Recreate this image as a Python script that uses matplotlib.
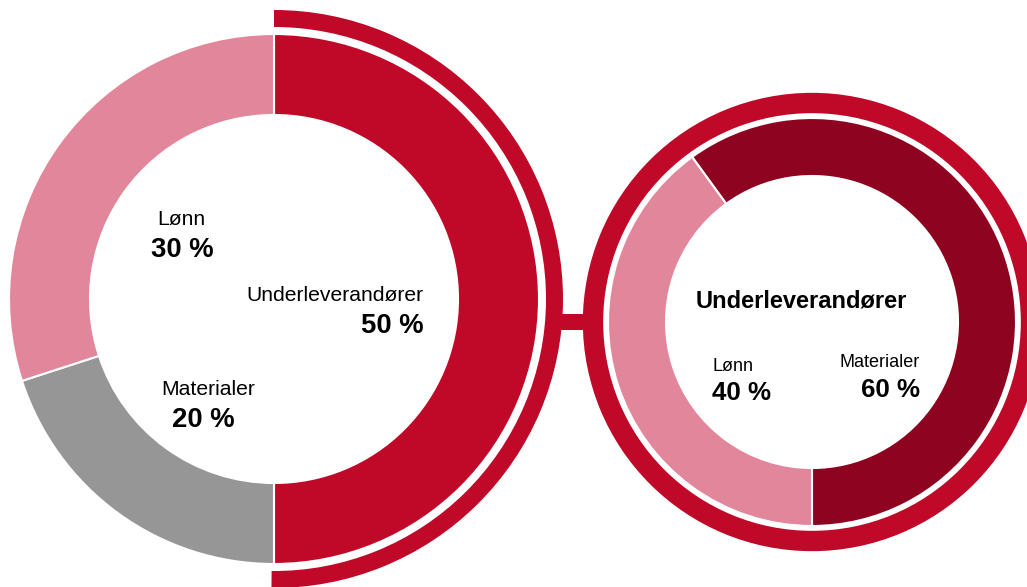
import matplotlib.pyplot as plt
from matplotlib.patches import Wedge, Rectangle

plt.rcParams["font.family"] = ["Liberation Sans", "DejaVu Sans"]

# Kostnadsfordeling totalt
total_labels = ["Underleverandører", "Materialer", "Lønn"]
total_values = [50, 20, 30]

# Fordeling innen underleverandører
under_labels = ["Materialer", "Lønn"]
under_values = [60, 40]

RED = "#C00828"
PINK = "#E2879B"
GREY = "#969696"
DARK = "#8D0320"

W, H = 1027, 587
fig = plt.figure(figsize=(W / 100, H / 100), dpi=100)
ax = fig.add_axes([0, 0, 1, 1])

# venstre smultring
c1 = (274, H - 299)
ax.pie(total_values, colors=[RED, GREY, PINK], startangle=90, counterclock=False,
       radius=265, center=c1,
       wedgeprops=dict(width=81, edgecolor="white", linewidth=1.5))
# bue rundt underleverandør-delen
ax.add_patch(Wedge(c1, 289, -90.5, 90, width=17, facecolor=RED, edgecolor="none"))

# høyre smultring
c2 = (812, H - 322)
ax.pie(under_values, colors=[DARK, PINK], startangle=-90, counterclock=True,
       radius=204, center=c2,
       wedgeprops=dict(width=58, edgecolor="white", linewidth=1.5))
# ring rundt høyre smultring
ax.add_patch(Wedge(c2, 230, -92, 268, width=22, facecolor=RED,
                   edgecolor="white", linewidth=1.2))

# kobling mellom buene
ax.add_patch(Rectangle((561, H - 330), 23, 16, facecolor=RED, edgecolor="none"))

ax.set_xlim(0, W)
ax.set_ylim(0, H)
ax.set_aspect("equal")
ax.axis("off")

reg = dict(fontsize=15.2, color="black", va="baseline")
bold = dict(fontsize=19.8, fontweight="bold", color="black", va="baseline")

ax.text(157, H - 225, total_labels[2], ha="left", **reg)
ax.text(151, H - 257, f"{total_values[2]} %", ha="left", **bold)
ax.text(424, H - 301, total_labels[0], ha="right", **reg)
ax.text(424, H - 333, f"{total_values[0]} %", ha="right", **bold)
ax.text(161, H - 395, total_labels[1], ha="left", **reg)
ax.text(172, H - 427, f"{total_values[1]} %", ha="left", **bold)

ax.text(696, H - 307, "Underleverandører", ha="left", fontsize=17,
        fontweight="bold", va="baseline")
ax.text(712, H - 371, under_labels[1], ha="left", fontsize=13, va="baseline")
ax.text(712, H - 400, f"{under_values[1]} %", ha="left", fontsize=18.6,
        fontweight="bold", va="baseline")
ax.text(920, H - 367, under_labels[0], ha="right", fontsize=13, va="baseline")
ax.text(920, H - 397, f"{under_values[0]} %", ha="right", fontsize=18.6,
        fontweight="bold", va="baseline")

fig.savefig("out.png", dpi=100)
